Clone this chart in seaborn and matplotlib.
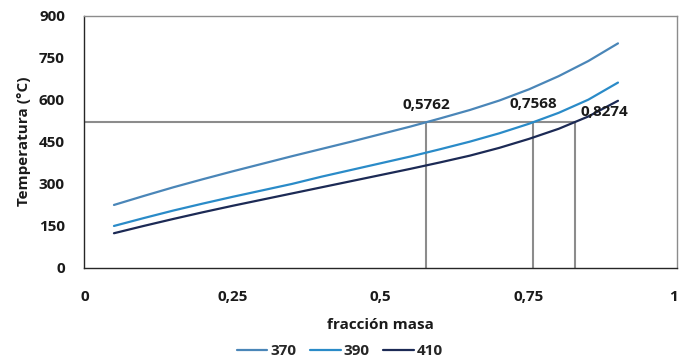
import numpy as np
import pandas as pd
import matplotlib
matplotlib.use("Agg")
import matplotlib.pyplot as plt
import matplotlib.transforms as mtransforms
import seaborn as sns

fraccion = [0.05, 0.10, 0.15, 0.20, 0.25, 0.30, 0.35, 0.40, 0.45,
            0.50, 0.55, 0.60, 0.65, 0.70, 0.75, 0.80, 0.85, 0.90]
t370 = [224, 256, 287, 316, 344, 371, 398, 424, 450,
        477, 504, 533, 563, 597, 637, 684, 738, 801]
t390 = [149, 177, 204, 229, 253, 276, 299, 325, 349,
        373, 397, 423, 450, 480, 514, 553, 600, 661]
t410 = [123, 149, 174, 198, 221, 243, 265, 287, 309,
        331, 353, 376, 400, 428, 460, 496, 540, 596]
series_names = ["370", "390", "410"]
ref_temp = 520
ref_x = [0.5762, 0.7568, 0.8274]
ref_labels = ["0,5762", "0,7568", "0,8274"]
xticks = [0, 0.25, 0.5, 0.75, 1]
xticklabels = ["0", "0,25", "0,5", "0,75", "1"]
yticks = [0, 150, 300, 450, 600, 750, 900]

df = pd.DataFrame({
    "x": fraccion * 3,
    "T": t370 + t390 + t410,
    "serie": [s for s in series_names for _ in fraccion],
})

sns.set_style("white")
plt.rcParams["font.family"] = ["Open Sans", "DejaVu Sans"]

fig = plt.figure(figsize=(6.8, 3.64), dpi=100)
ax = fig.add_axes([0.124, 0.2646, 0.872, 0.6924])

palette = {"370": "#4a86b8", "390": "#2a8bc8", "410": "#1c2a55"}
sns.lineplot(data=df, x="x", y="T", hue="serie", palette=palette,
             linewidth=1.6, ax=ax, legend=True)

# reference lines
ax.plot([0, max(ref_x)], [ref_temp, ref_temp], color="#8c8c8c", lw=1.5, zorder=1)
for xv in ref_x:
    ax.plot([xv, xv], [0, ref_temp], color="#8c8c8c", lw=1.5, zorder=1)

label_pos = [(0.5762, 555, "center"), (0.7568, 560, "center"), (0.8274, 532, "left")]
for i, ((xv, yv, ha), lab) in enumerate(zip(label_pos, ref_labels)):
    t = ax.text(xv, yv, lab, ha=ha, va="bottom", fontsize=11,
                fontweight="bold", color="#1a1a1a")
    if ha == "left":
        t.set_transform(ax.transData + mtransforms.ScaledTranslation(6 / 100, 0, fig.dpi_scale_trans))

ax.set_xlim(0, 1)
ax.set_ylim(0, 900)
ax.set_xticks(xticks)
ax.set_xticklabels(xticklabels)
ax.set_yticks(yticks)
ax.tick_params(axis="both", length=0, labelsize=11, colors="#1a1a1a")
ax.tick_params(axis="x", pad=16)
ax.tick_params(axis="y", pad=14)
for lab in ax.get_xticklabels() + ax.get_yticklabels():
    lab.set_fontweight("bold")
last = ax.get_xticklabels()[-1]
last.set_transform(last.get_transform() + mtransforms.ScaledTranslation(-4 / 100, 0, fig.dpi_scale_trans))

ax.set_xlabel("fracción masa", fontsize=11, fontweight="bold", labelpad=10, color="#1a1a1a")
ax.set_ylabel("Temperatura (°C)", fontsize=11, fontweight="bold", labelpad=6, color="#1a1a1a")

for s in ["left", "bottom"]:
    ax.spines[s].set_color("#262626")
    ax.spines[s].set_linewidth(1.0)
for s in ["top", "right"]:
    ax.spines[s].set_color("#8c8c8c")
    ax.spines[s].set_linewidth(1.0)

handles, labels = ax.get_legend_handles_labels()
ax.get_legend().remove()
leg = fig.legend(handles, labels, loc="center", bbox_to_anchor=(0.5, 0.035), ncol=3,
                 frameon=False, fontsize=11, handlelength=2.0, columnspacing=0.9,
                 handletextpad=0.2, borderpad=0.1)
for t in leg.get_texts():
    t.set_fontweight("bold")

fig.savefig("out.png", dpi=100)
